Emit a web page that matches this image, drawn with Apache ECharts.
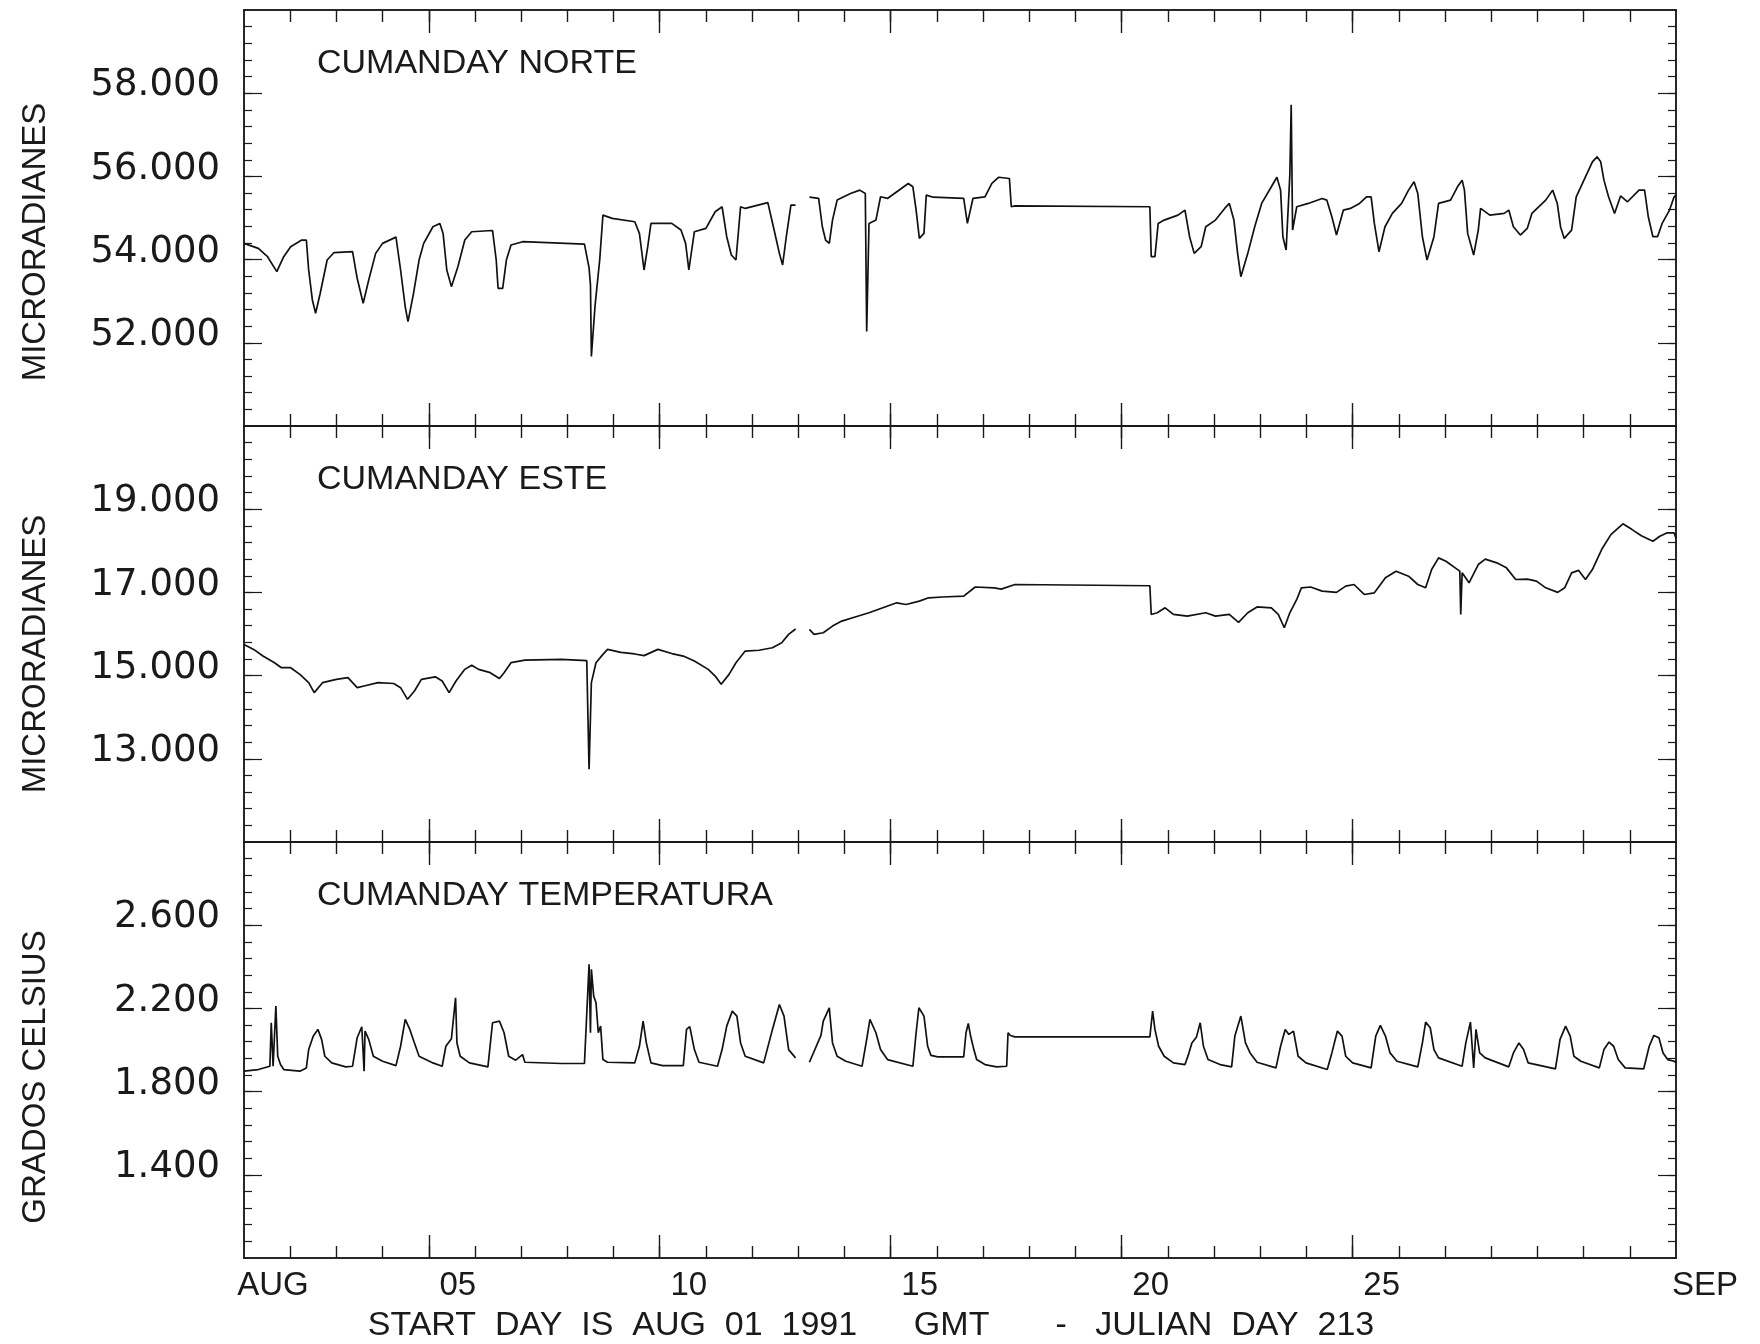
<!DOCTYPE html>
<html>
<head>
<meta charset="utf-8">
<title>Cumanday</title>
<script src="https://cdn.jsdelivr.net/npm/echarts@6/dist/echarts.min.js"></script>
<style>
html,body{margin:0;padding:0;background:#fff}
#chart{width:1760px;height:1344px}
</style>
</head>
<body>
<div id="chart"></div>
<script>
// days since AUG 01 1991 00:00 GMT, value
var norteData = [
  [0.00,54.39],[0.31,54.27],[0.51,54.07],[0.71,53.71],[0.86,54.07],[1.01,54.31],[1.25,54.47],[1.35,54.47],
  [1.40,53.75],[1.48,53.03],[1.55,52.71],[1.65,53.19],[1.80,53.99],[1.95,54.17],[2.35,54.19],[2.45,53.55],
  [2.58,52.95],[2.70,53.51],[2.85,54.15],[3.00,54.39],[3.29,54.54],[3.39,53.75],[3.49,52.87],[3.55,52.51],
  [3.67,53.19],[3.79,53.99],[3.89,54.39],[4.09,54.79],[4.24,54.87],[4.31,54.63],[4.39,53.75],[4.49,53.35],
  [4.63,53.83],[4.78,54.47],[4.93,54.67],[5.38,54.70],[5.46,53.99],[5.50,53.31],[5.60,53.31],[5.68,53.99],
  [5.78,54.35],[6.03,54.43],[7.37,54.37],[7.47,53.80],[7.50,53.40],[7.52,51.67],[7.60,52.90],[7.70,53.99],
  [7.77,55.07],[7.97,54.99],[8.46,54.91],[8.56,54.63],[8.66,53.75],[8.74,54.31],[8.81,54.87],[9.26,54.87],
  [9.46,54.71],[9.56,54.39],[9.63,53.75],[9.75,54.67],[10.00,54.75],[10.20,55.15],[10.35,55.27],[10.45,54.55],
  [10.55,54.11],[10.65,53.99],[10.75,55.27],[10.85,55.23],[11.34,55.37],[11.46,54.79],[11.59,54.15],[11.66,53.87],
  [11.74,54.55],[11.84,55.31],[11.94,55.31],[12.09,null],[12.24,55.50],[12.44,55.47],[12.52,54.79],[12.59,54.47],
  [12.67,54.39],[12.74,54.95],[12.84,55.43],[13.13,55.59],[13.33,55.67],[13.45,55.59],[13.48,52.27],[13.53,54.87],
  [13.68,54.95],[13.78,55.51],[13.93,55.47],[14.23,55.71],[14.38,55.83],[14.48,55.75],[14.55,55.19],[14.62,54.51],
  [14.72,54.63],[14.77,55.55],[14.92,55.50],[15.58,55.47],[15.66,54.87],[15.78,55.47],[16.04,55.51],[16.19,55.83],
  [16.34,55.98],[16.57,55.95],[16.61,55.27],[16.69,55.29],[19.61,55.27],[19.64,54.07],[19.72,54.07],[19.79,54.87],
  [19.92,54.95],[20.22,55.07],[20.37,55.19],[20.47,54.55],[20.57,54.15],[20.72,54.31],[20.82,54.79],[21.03,54.95],
  [21.23,55.23],[21.33,55.35],[21.43,54.95],[21.51,54.15],[21.58,53.59],[21.73,54.15],[21.88,54.79],[22.03,55.35],
  [22.24,55.75],[22.36,55.98],[22.44,55.67],[22.49,54.55],[22.56,54.23],[22.64,56.03],[22.67,57.72],[22.70,54.71],
  [22.79,55.27],[23.04,55.35],[23.34,55.47],[23.44,55.43],[23.55,55.03],[23.65,54.59],[23.80,55.19],[23.95,55.23],
  [24.15,55.35],[24.30,55.51],[24.40,55.51],[24.47,54.87],[24.57,54.19],[24.70,54.79],[24.86,55.11],[25.06,55.35],
  [25.21,55.67],[25.33,55.87],[25.41,55.59],[25.51,54.55],[25.61,53.99],[25.76,54.55],[25.86,55.35],[26.12,55.43],
  [26.27,55.75],[26.37,55.91],[26.42,55.67],[26.49,54.63],[26.62,54.11],[26.72,54.71],[26.77,55.23],[26.97,55.07],
  [27.28,55.11],[27.38,55.19],[27.48,54.79],[27.63,54.59],[27.78,54.75],[27.88,55.11],[28.18,55.43],[28.33,55.67],
  [28.43,55.35],[28.50,54.79],[28.58,54.51],[28.74,54.71],[28.84,55.51],[29.04,55.99],[29.19,56.35],[29.29,56.47],
  [29.37,56.35],[29.44,55.91],[29.54,55.51],[29.67,55.11],[29.80,55.53],[29.95,55.39],[30.20,55.67],[30.32,55.67],
  [30.40,55.03],[30.50,54.55],[30.60,54.55],[30.70,54.87],[30.86,55.19],[30.96,55.51],[31.00,55.55]
];

var esteData = [
  [0.00,15.75],[0.21,15.63],[0.41,15.47],[0.66,15.31],[0.81,15.19],[1.01,15.19],[1.21,15.03],[1.40,14.83],
  [1.52,14.59],[1.70,14.83],[2.00,14.91],[2.25,14.95],[2.45,14.71],[2.60,14.75],[2.90,14.83],[3.24,14.81],
  [3.39,14.71],[3.54,14.43],[3.69,14.63],[3.84,14.91],[4.14,14.97],[4.29,14.87],[4.44,14.59],[4.59,14.87],
  [4.78,15.15],[4.93,15.25],[5.08,15.15],[5.33,15.07],[5.53,14.93],[5.63,15.07],[5.78,15.31],[6.08,15.37],
  [6.87,15.39],[7.42,15.36],[7.47,12.75],[7.52,14.83],[7.62,15.31],[7.77,15.51],[7.87,15.63],[8.16,15.56],
  [8.46,15.52],[8.66,15.48],[8.96,15.63],[9.26,15.53],[9.51,15.47],[9.75,15.35],[10.05,15.15],[10.20,14.99],
  [10.33,14.79],[10.50,15.03],[10.65,15.31],[10.85,15.59],[11.15,15.61],[11.44,15.67],[11.64,15.79],[11.79,15.99],
  [11.94,16.12],[12.09,null],[12.24,16.11],[12.34,15.99],[12.54,16.03],[12.74,16.19],[12.94,16.31],[13.23,16.41],
  [13.53,16.51],[13.83,16.63],[14.13,16.75],[14.33,16.71],[14.62,16.79],[14.82,16.87],[15.12,16.89],[15.58,16.91],
  [15.83,17.13],[16.24,17.11],[16.39,17.08],[16.69,17.19],[19.61,17.16],[19.64,16.47],[19.77,16.51],[19.94,16.63],
  [20.12,16.47],[20.42,16.43],[20.82,16.51],[21.03,16.43],[21.33,16.47],[21.53,16.28],[21.73,16.51],[21.93,16.65],
  [22.24,16.63],[22.39,16.47],[22.52,16.15],[22.64,16.51],[22.79,16.83],[22.89,17.11],[23.09,17.13],[23.34,17.03],
  [23.65,17.00],[23.85,17.15],[24.03,17.19],[24.25,16.95],[24.47,16.99],[24.71,17.35],[24.94,17.51],[25.21,17.39],
  [25.41,17.19],[25.58,17.11],[25.71,17.55],[25.86,17.83],[26.02,17.75],[26.22,17.59],[26.32,17.51],[26.34,16.47],
  [26.37,17.47],[26.52,17.23],[26.72,17.67],[26.87,17.80],[27.12,17.71],[27.33,17.59],[27.53,17.31],[27.78,17.32],
  [27.98,17.27],[28.18,17.11],[28.44,17.00],[28.59,17.11],[28.74,17.47],[28.89,17.53],[29.04,17.31],[29.19,17.55],
  [29.39,18.03],[29.59,18.39],[29.85,18.65],[30.05,18.51],[30.25,18.36],[30.50,18.23],[30.65,18.35],[30.80,18.43],
  [30.96,18.43],[31.00,18.30]
];

var tempData = [
  [0.00,1.898],[0.31,1.906],[0.56,1.922],[0.59,2.131],[0.63,1.922],[0.69,2.211],[0.73,1.970],[0.79,1.930],
  [0.86,1.906],[1.21,1.898],[1.35,1.914],[1.40,2.002],[1.50,2.067],[1.60,2.099],[1.68,2.051],[1.75,1.970],
  [1.90,1.938],[2.20,1.919],[2.35,1.922],[2.45,2.059],[2.55,2.112],[2.60,1.898],[2.62,2.091],[2.70,2.051],
  [2.80,1.970],[3.00,1.946],[3.29,1.925],[3.39,2.018],[3.49,2.147],[3.59,2.099],[3.69,2.034],[3.79,1.970],
  [4.09,1.938],[4.29,1.922],[4.37,2.018],[4.49,2.054],[4.58,2.251],[4.61,2.034],[4.68,1.970],[4.88,1.938],
  [5.28,1.919],[5.38,2.131],[5.53,2.139],[5.63,2.083],[5.73,1.970],[5.88,1.951],[6.03,1.978],[6.08,1.941],
  [6.87,1.935],[7.37,1.935],[7.47,2.412],[7.50,2.083],[7.52,2.388],[7.57,2.259],[7.62,2.227],[7.67,2.083],
  [7.72,2.115],[7.77,1.954],[7.87,1.941],[8.46,1.938],[8.56,2.018],[8.64,2.139],[8.71,2.034],[8.81,1.938],
  [9.06,1.925],[9.51,1.925],[9.58,2.099],[9.65,2.112],[9.75,2.002],[9.85,1.941],[10.25,1.922],[10.35,2.002],
  [10.45,2.115],[10.57,2.187],[10.67,2.163],[10.75,2.034],[10.85,1.970],[11.25,1.938],[11.44,2.099],[11.59,2.219],
  [11.69,2.163],[11.79,2.002],[11.94,1.962],[12.09,null],[12.24,1.941],[12.49,2.070],[12.54,2.139],[12.67,2.203],
  [12.74,2.034],[12.84,1.970],[13.03,1.946],[13.38,1.922],[13.48,2.051],[13.55,2.147],[13.68,2.083],[13.78,2.002],
  [13.93,1.954],[14.48,1.922],[14.55,2.083],[14.61,2.203],[14.72,2.163],[14.80,2.018],[14.87,1.974],[15.02,1.967],
  [15.58,1.967],[15.63,2.083],[15.68,2.128],[15.73,2.067],[15.80,2.002],[15.86,1.954],[16.04,1.930],[16.29,1.919],
  [16.51,1.922],[16.54,2.083],[16.59,2.070],[16.69,2.063],[19.61,2.063],[19.67,2.187],[19.72,2.099],[19.80,2.018],
  [19.92,1.970],[20.12,1.938],[20.37,1.930],[20.44,1.974],[20.52,2.034],[20.62,2.063],[20.70,2.131],[20.77,2.018],
  [20.87,1.954],[21.13,1.930],[21.38,1.919],[21.45,2.067],[21.58,2.163],[21.68,2.034],[21.78,1.986],[21.93,1.941],
  [22.34,1.914],[22.44,2.018],[22.54,2.099],[22.62,2.075],[22.72,2.091],[22.82,1.970],[22.99,1.938],[23.45,1.906],
  [23.55,1.986],[23.67,2.091],[23.77,2.067],[23.85,1.970],[24.00,1.938],[24.40,1.914],[24.50,2.067],[24.60,2.118],
  [24.71,2.067],[24.81,1.986],[24.96,1.946],[25.41,1.919],[25.51,2.034],[25.58,2.134],[25.68,2.107],[25.76,2.002],
  [25.86,1.962],[26.37,1.922],[26.45,2.034],[26.55,2.134],[26.62,1.914],[26.67,2.099],[26.75,1.986],[26.87,1.962],
  [27.38,1.919],[27.48,1.986],[27.60,2.034],[27.70,2.002],[27.80,1.938],[28.39,1.909],[28.49,2.051],[28.61,2.115],
  [28.71,2.067],[28.79,1.970],[28.94,1.946],[29.34,1.914],[29.44,2.002],[29.55,2.038],[29.65,2.018],[29.75,1.954],
  [29.90,1.914],[30.30,1.909],[30.42,2.018],[30.52,2.070],[30.63,2.059],[30.72,1.986],[30.82,1.954],[30.96,1.946],
  [31.00,1.940]
];

// tick labels
var norteTicks = [52, 54, 56, 58];
var esteTicks = [13, 15, 17, 19];
var tempTicks = [1.4, 1.8, 2.2, 2.6];
var dayLabels = ['AUG', '05', '10', '15', '20', '25', 'SEP'];
var dayLabelAt = [0, 4, 9, 14, 19, 24, 31];
var bigTickDays = [4, 9, 14, 19, 24];

var FONT = "'Liberation Sans', Arial, sans-serif";
var NUMFONT = "'DejaVu Sans', 'Liberation Sans', sans-serif";
var INK = '#1a1a1a';

var panels = [
  {title:'CUMANDAY NORTE', unit:'MICRORADIANES', data:norteData, min:50, max:60, ticks:norteTicks, step:0.4, shift:48},
  {title:'CUMANDAY ESTE', unit:'MICRORADIANES', data:esteData, min:11, max:21, ticks:esteTicks, step:0.4, shift:40},
  {title:'CUMANDAY TEMPERATURA', unit:'GRADOS CELSIUS', data:tempData, min:1, max:3, ticks:tempTicks, step:0.08, shift:54}
];
var gridTop = [10, 426, 842];
var gridH = 416;

var dailyTicks = [];
for (var d = 1; d < 31; d++) dailyTicks.push(d);

var chart = echarts.init(document.getElementById('chart'));

var grids = [], xAxes = [], yAxes = [], series = [], titles = [];

var axisLine = {show:true, onZero:false, lineStyle:{color:INK, width:1.5}};

function xAxis(g, pos, vals, len) {
  return {
    type:'value', gridIndex:g, min:0, max:31, position:pos,
    axisLine:axisLine,
    axisTick:{show:true, inside:true, length:len, customValues:vals, lineStyle:{color:INK, width:1.4}},
    axisLabel:{show:false},
    splitLine:{show:false}
  };
}

function yAxis(g, p, pos, vals, len) {
  return {
    type:'value', gridIndex:g, min:p.min, max:p.max, position:pos,
    axisLine:axisLine,
    axisTick:{show:true, inside:true, length:len, customValues:vals, lineStyle:{color:INK, width:1.2}},
    axisLabel:{show:false},
    splitLine:{show:false}
  };
}

panels.forEach(function (p, i) {
  grids.push({left:244, right:84, top:gridTop[i], height:gridH});

  var minor = [];
  var n = Math.round((p.max - p.min) / p.step);
  for (var k = 1; k < n; k++) minor.push(Math.round((p.min + k * p.step) * 1000) / 1000);

  var xb = xAxis(i, 'bottom', dailyTicks, 12);
  if (i === 2) {
    xb.axisLabel = {
      show:true, customValues:dayLabelAt, margin:11,
      padding:[0, 0, 0, 58],
      fontFamily:FONT, fontSize:33, color:INK,
      formatter:function (v) { return dayLabels[dayLabelAt.indexOf(v)]; }
    };
    xb.name = 'START  DAY  IS  AUG  01  1991      GMT       -   JULIAN  DAY  213';
    xb.nameLocation = 'middle';
    xb.nameGap = 51;
    xb.nameTextStyle = {fontFamily:FONT, fontSize:34, color:INK, padding:[0, 178, 0, 0]};
  }
  xAxes.push(xb, xAxis(i, 'bottom', bigTickDays, 23),
             xAxis(i, 'top', dailyTicks, 12), xAxis(i, 'top', bigTickDays, 23));

  var yl = yAxis(i, p, 'left', p.ticks, 18);
  yl.axisLabel = {
    show:true, customValues:p.ticks, margin:24,
    verticalAlign:'bottom', lineHeight:15,
    fontFamily:NUMFONT, fontSize:37, color:INK,
    formatter:function (v) { return v.toFixed(3); }
  };
  yl.name = p.unit;
  yl.nameLocation = 'middle';
  yl.nameGap = 192;
  yl.nameTextStyle = {fontFamily:FONT, fontSize:33, color:INK, padding:[0, p.shift, 0, 0]};
  yAxes.push(yl, yAxis(i, p, 'left', minor, 8),
             yAxis(i, p, 'right', p.ticks, 18), yAxis(i, p, 'right', minor, 8));

  series.push({
    type:'line', xAxisIndex:i * 4, yAxisIndex:i * 4, data:p.data,
    showSymbol:false, silent:true, connectNulls:false,
    lineStyle:{color:'#111', width:1.7}
  });

  titles.push({
    text:p.title, left:312, top:gridTop[i] + 32,
    textStyle:{fontFamily:FONT, fontSize:34, fontWeight:'normal', color:INK}
  });
});

chart.setOption({
  animation:false,
  backgroundColor:'#fff',
  title:titles,
  grid:grids,
  xAxis:xAxes,
  yAxis:yAxes,
  series:series
});
</script>
</body>
</html>
